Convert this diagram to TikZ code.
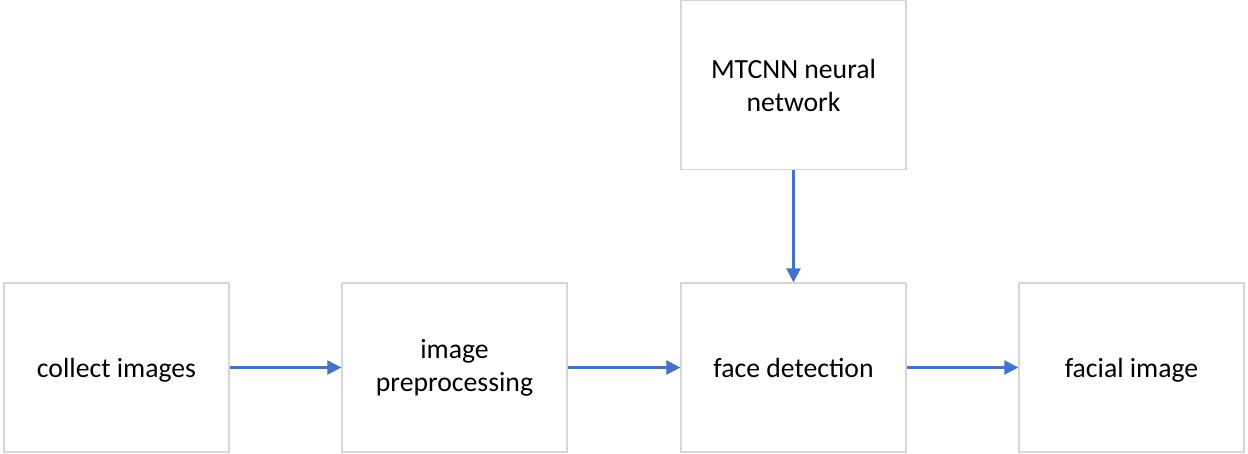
\documentclass[tikz,border=0pt]{standalone}
\usepackage{fontspec}
\setmainfont{Carlito}
\usetikzlibrary{arrows.meta}
\definecolor{boxgray}{RGB}{214,214,214}
\definecolor{arrowblue}{RGB}{68,114,196}
\tikzset{
  stepbox/.style={draw=boxgray, line width=1.3pt, fill=white, minimum width=225pt, minimum height=169pt, inner sep=0pt, align=center, font=\fontsize{27.7}{33}\selectfont},
  oneline/.style={text depth=0pt},
  flow/.style={draw=arrowblue, line width=2.4pt, -{Triangle[length=14pt,width=14pt]}}
}
\begin{document}
\begin{tikzpicture}[x=1pt,y=-1pt]
\useasboundingbox (0,0) rectangle (1248,454);
\node[stepbox, oneline] (collect) at (116.5,367.5) {collect images};
\node[stepbox] (prep) at (454.5,367.5) {image\\preprocessing};
\node[stepbox, oneline] (face) at (793.5,367.5) {face detection};
\node[stepbox, oneline] (facial) at (1131.5,367.5) {facial image};
\node[stepbox] (mtcnn) at (793.5,85) {MTCNN neural\\network};
\draw[flow] (collect) -- (prep);
\draw[flow] (prep) -- (face);
\draw[flow] (face) -- (facial);
\draw[flow] (mtcnn) -- (face);
\end{tikzpicture}
\end{document}
